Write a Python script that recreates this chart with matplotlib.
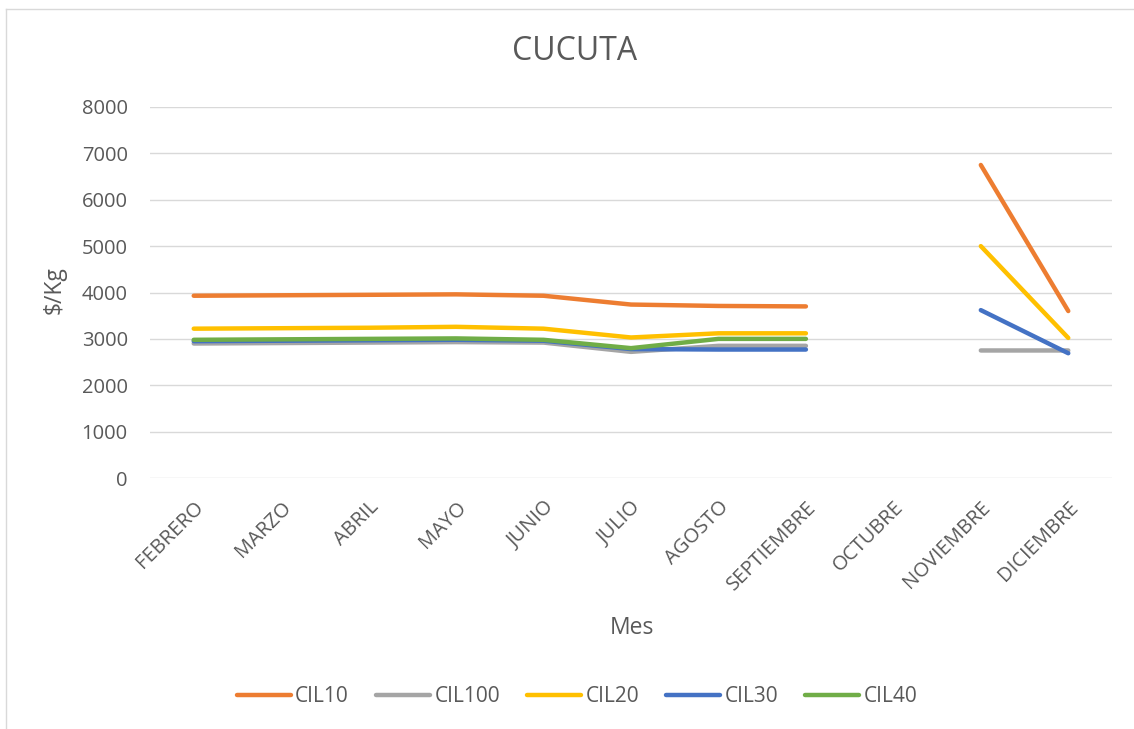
import numpy as np
import matplotlib
matplotlib.use("Agg")
import matplotlib.pyplot as plt
from matplotlib.lines import Line2D

months = ["FEBRERO", "MARZO", "ABRIL", "MAYO", "JUNIO", "JULIO", "AGOSTO",
          "SEPTIEMBRE", "OCTUBRE", "NOVIEMBRE", "DICIEMBRE"]
nan = np.nan
cil10 = [3930, 3940, 3950, 3960, 3930, 3740, 3710, 3700, nan, 6750, 3600]
cil100 = [2900, 2910, 2920, 2930, 2920, 2720, 2850, 2850, nan, 2750, 2750]
cil20 = [3220, 3230, 3240, 3260, 3220, 3030, 3120, 3120, nan, 5000, 3020]
cil30 = [2950, 2960, 2970, 2980, 2960, 2780, 2770, 2770, nan, 3620, 2690]
cil40 = [2980, 2990, 3000, 3010, 2980, 2800, 3000, 3000, nan, nan, nan]

series = [("CIL10", cil10, "#ED7D31"), ("CIL100", cil100, "#A5A5A5"),
          ("CIL20", cil20, "#FFC000"), ("CIL30", cil30, "#4472C4"),
          ("CIL40", cil40, "#70AD47")]

W, H = 1134, 729
txt = '#595959'
plt.rcParams['font.family'] = ['Open Sans', 'DejaVu Sans']
fig = plt.figure(figsize=(W / 100, H / 100), dpi=100)
ax = fig.add_axes([150 / W, 1 - 478 / H, (1112 - 150) / W, (478 - 107) / H])
x = np.arange(len(months))
for name, vals, col in series:
    ax.plot(x, vals, color=col, lw=3.2, label=name, solid_capstyle='round',
            solid_joinstyle='round')

ax.set_xlim(-0.5, len(months) - 0.5)
ax.set_ylim(0, 8000)
ax.set_yticks(range(0, 8001, 1000))
ax.set_xticks(x)
ax.set_xticklabels(months, rotation=45, ha='right', rotation_mode='anchor')
ax.grid(axis='y', color='#D9D9D9', lw=1)
ax.set_axisbelow(True)
for s in ax.spines.values():
    s.set_visible(False)
ax.tick_params(length=0, colors=txt, labelsize=14.5)
ax.tick_params(axis='y', pad=16)
ax.tick_params(axis='x', pad=14)

fig.text(55 / W, 1 - 290 / H, "$/Kg", rotation=90, ha='center', va='center',
         color=txt, fontsize=16.5)
fig.text(632 / W, 1 - 628 / H, "Mes", ha='center', va='center',
         color=txt, fontsize=16.5)
fig.text(575 / W, 1 - 52 / H, "CUCUTA", ha='center', va='center',
         color=txt, fontsize=23)

handles, labels = ax.get_legend_handles_labels()
leg = fig.legend(handles, labels, loc='center', bbox_to_anchor=(577 / W, 1 - 697 / H),
                 ncol=5, frameon=False, fontsize=15, handlelength=2.6,
                 columnspacing=1.3, handletextpad=0.2)
for t in leg.get_texts():
    t.set_color(txt)
bx, by = 5.5 / W, 1 - 8.5 / H
fig.add_artist(Line2D([bx, 1], [by, by], transform=fig.transFigure, color='#D9D9D9', lw=1))
fig.add_artist(Line2D([bx, bx], [0, by], transform=fig.transFigure, color='#D9D9D9', lw=1))
fig.savefig("out.png", dpi=100, facecolor='white')
